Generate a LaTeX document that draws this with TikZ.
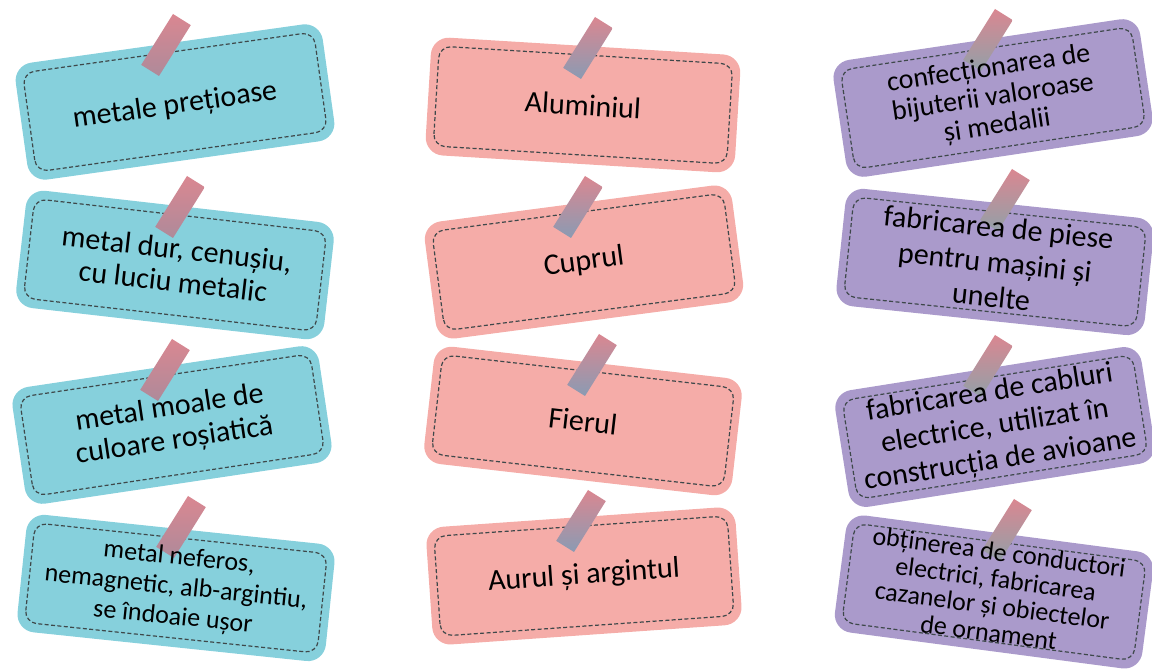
\documentclass[tikz,border=0pt]{standalone}
\usepackage{fontspec}
\setmainfont{Carlito}
\definecolor{cyancard}{HTML}{86D0DC}
\definecolor{pinkcard}{HTML}{F5ACA8}
\definecolor{purplecard}{HTML}{AA9ACB}
\definecolor{dashcol}{HTML}{3E484A}
\definecolor{tapetop}{HTML}{DA8791}
\definecolor{tapecyan}{HTML}{AE8A9A}
\definecolor{tapepink}{HTML}{8A9BB3}
\definecolor{tapepurple}{HTML}{92A0A8}
\tikzset{
  card/.style={minimum width=155pt, minimum height=59pt, inner sep=0pt,
    rounded corners=9pt},
  cardline/.style={draw=dashcol, dash pattern=on 2pt off 1.2pt, line width=0.6pt,
    rounded corners=6pt},
  cardtext/.style={inner sep=0pt, align=center, text=black,
    font=\fontsize{15}{16.5}\selectfont},
  tapestrip/.style={minimum width=10.5pt, minimum height=30pt, inner sep=0pt,
    rotate=-32, top color=tapetop},
  cy/.style={card, fill=cyancard},
  pk/.style={card, fill=pinkcard},
  pu/.style={card, fill=purplecard},
}
% #1 name, #2 style, #3 rotation, #4 position
\newcommand{\mkcard}[4]{%
  \node[#2, rotate=#3] (#1) at #4 {};
  \begin{scope}[shift={(#1.center)}, rotate=#3]
    \draw[cardline] (-73.5pt,-25pt) rectangle (73.5pt,25pt);
  \end{scope}}
\begin{document}
\begin{tikzpicture}[x=0.5pt, y=-0.5pt]
\path[use as bounding box] (0,0) rectangle (1152,672);
% cards
\mkcard{l1}{cy}{8}{(175,102)}
\mkcard{l2}{cy}{-6.5}{(175,265)}
\mkcard{l3}{cy}{8.5}{(172,425)}
\mkcard{l4}{cy}{-6}{(176,588)}
\mkcard{m1}{pk}{-3.5}{(583,105)}
\mkcard{m2}{pk}{7.5}{(584,262)}
\mkcard{m3}{pk}{-6.5}{(583,421)}
\mkcard{m4}{pk}{4}{(584,576)}
\mkcard{r1}{pu}{8.5}{(993,98)}
\mkcard{r2}{pu}{-6}{(995,262)}
\mkcard{r3}{pu}{9}{(995,427)}
\mkcard{r4}{pu}{-7.5}{(994,592)}
% tapes
\node[tapestrip, bottom color=tapecyan] (l1t) at (166,45) {};
\node[tapestrip, bottom color=tapecyan] (l2t) at (180,207) {};
\node[tapestrip, bottom color=tapecyan] (l3t) at (165,370) {};
\node[tapestrip, bottom color=tapecyan] (l4t) at (181,527) {};
\node[tapestrip, bottom color=tapepink] (m1t) at (588,48) {};
\node[tapestrip, bottom color=tapepink] (m2t) at (578,207) {};
\node[tapestrip, bottom color=tapepink] (m3t) at (592,365) {};
\node[tapestrip, bottom color=tapepink] (m4t) at (581,521) {};
\node[tapestrip, bottom color=tapepurple] (r1t) at (988,40) {};
\node[tapestrip, bottom color=tapepurple] (r2t) at (1005,200) {};
\node[tapestrip, bottom color=tapepurple] (r3t) at (988,366) {};
\node[tapestrip, bottom color=tapepurple] (r4t) at (1007,530) {};
% texts
\node[cardtext, rotate=8] (l1x) at ([yshift=-2pt]l1.center) {metale prețioase};
\node[cardtext, rotate=-6.5] (l2x) at (l2) {metal dur, cenușiu,\\cu luciu metalic};
\node[cardtext, rotate=8.5] (l3x) at (l3) {metal moale de\\culoare roșiatică};
\node[cardtext, rotate=-6, font=\fontsize{13}{15}\selectfont] (l4x) at (l4) {metal neferos,\\nemagnetic, alb-argintiu,\\se îndoaie ușor};
\node[cardtext, rotate=-3.5] (m1x) at (m1) {Aluminiul};
\node[cardtext, rotate=7.5] (m2x) at (m2) {Cuprul};
\node[cardtext, rotate=-6.5] (m3x) at (m3) {Fierul};
\node[cardtext, rotate=4] (m4x) at (m4) {Aurul și argintul};
\node[cardtext, rotate=8.5, font=\fontsize{14}{14.5}\selectfont] (r1x) at (r1) {confecționarea de\\bijuterii valoroase\\și medalii};
\node[cardtext, rotate=-6, font=\fontsize{15}{17.5}\selectfont] (r2x) at (r2) {fabricarea de piese\\pentru mașini și\\unelte};
\node[cardtext, rotate=9, font=\fontsize{15}{17}\selectfont] (r3x) at (r3) {fabricarea de cabluri\\electrice, utilizat în\\construcția de avioane};
\node[cardtext, rotate=-7.5, font=\fontsize{13}{13.5}\selectfont] (r4x) at (r4) {obținerea de conductori\\electrici, fabricarea\\cazanelor și obiectelor\\de ornament};
\end{tikzpicture}
\end{document}
